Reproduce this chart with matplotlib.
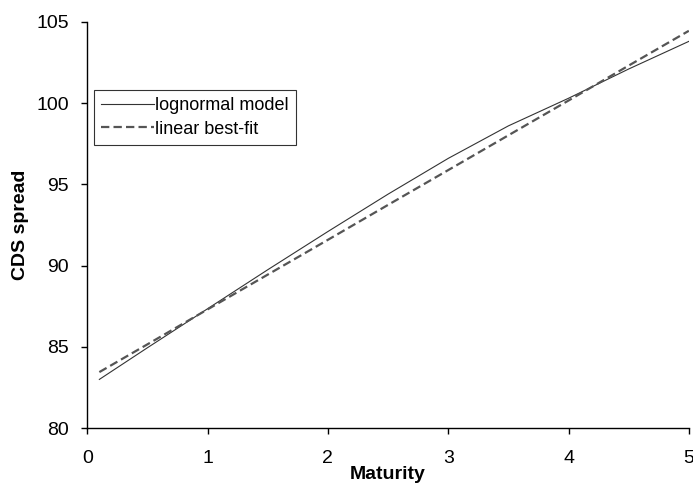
import matplotlib
matplotlib.use('Agg')
import matplotlib.pyplot as plt

# данные
maturity = [0.1, 0.5, 1.0, 1.5, 2.0, 2.5, 3.0, 3.5, 4.0, 4.5, 5.0]
lognormal = [83.0, 84.95, 87.35, 89.75, 92.1, 94.4, 96.6, 98.6, 100.3, 102.1, 103.8]
linear_fit = [83.45, 85.16, 87.31, 89.45, 91.59, 93.74, 95.88, 98.02, 100.16, 102.31, 104.45]

plt.rcParams['font.family'] = ['Liberation Sans', 'DejaVu Sans']
plt.rcParams['lines.scale_dashes'] = False

fig = plt.figure(figsize=(6.93, 4.86), dpi=100)
ax = fig.add_axes([0.126, 0.119, 0.868, 0.836])

ax.plot(maturity, lognormal, '-', color='#333333', lw=0.8, label='lognormal model')
ax.plot(maturity, linear_fit, '--', color='#555555', lw=1.6, dashes=(6, 3), label='linear best-fit')

ax.set_xlim(0, 5)
ax.set_ylim(80, 105)
ax.set_xticks(range(0, 6))
ax.set_yticks(range(80, 106, 5))

for s in ['top', 'right']:
    ax.spines[s].set_visible(False)
for s in ['left', 'bottom']:
    ax.spines[s].set_linewidth(1.0)

ax.tick_params(direction='out', length=4.3, width=1.0, labelsize=14)
ax.tick_params(axis='x', pad=11.5)
ax.tick_params(axis='y', pad=9)

# подпись оси X почти у нижнего края, как в оригинале
ax.set_xlabel('Maturity', fontsize=14, fontweight='bold', labelpad=-1)
ax.set_ylabel('CDS spread', fontsize=14, fontweight='bold', labelpad=5)

leg = ax.legend(loc='upper left', bbox_to_anchor=(0.011, 0.832), fontsize=13,
                frameon=True, fancybox=False, handlelength=2.9, handletextpad=0.1,
                borderpad=0.4, labelspacing=0.35, borderaxespad=0)
leg.get_frame().set_edgecolor('black')
leg.get_frame().set_linewidth(0.8)

fig.savefig('out.png', dpi=100)
